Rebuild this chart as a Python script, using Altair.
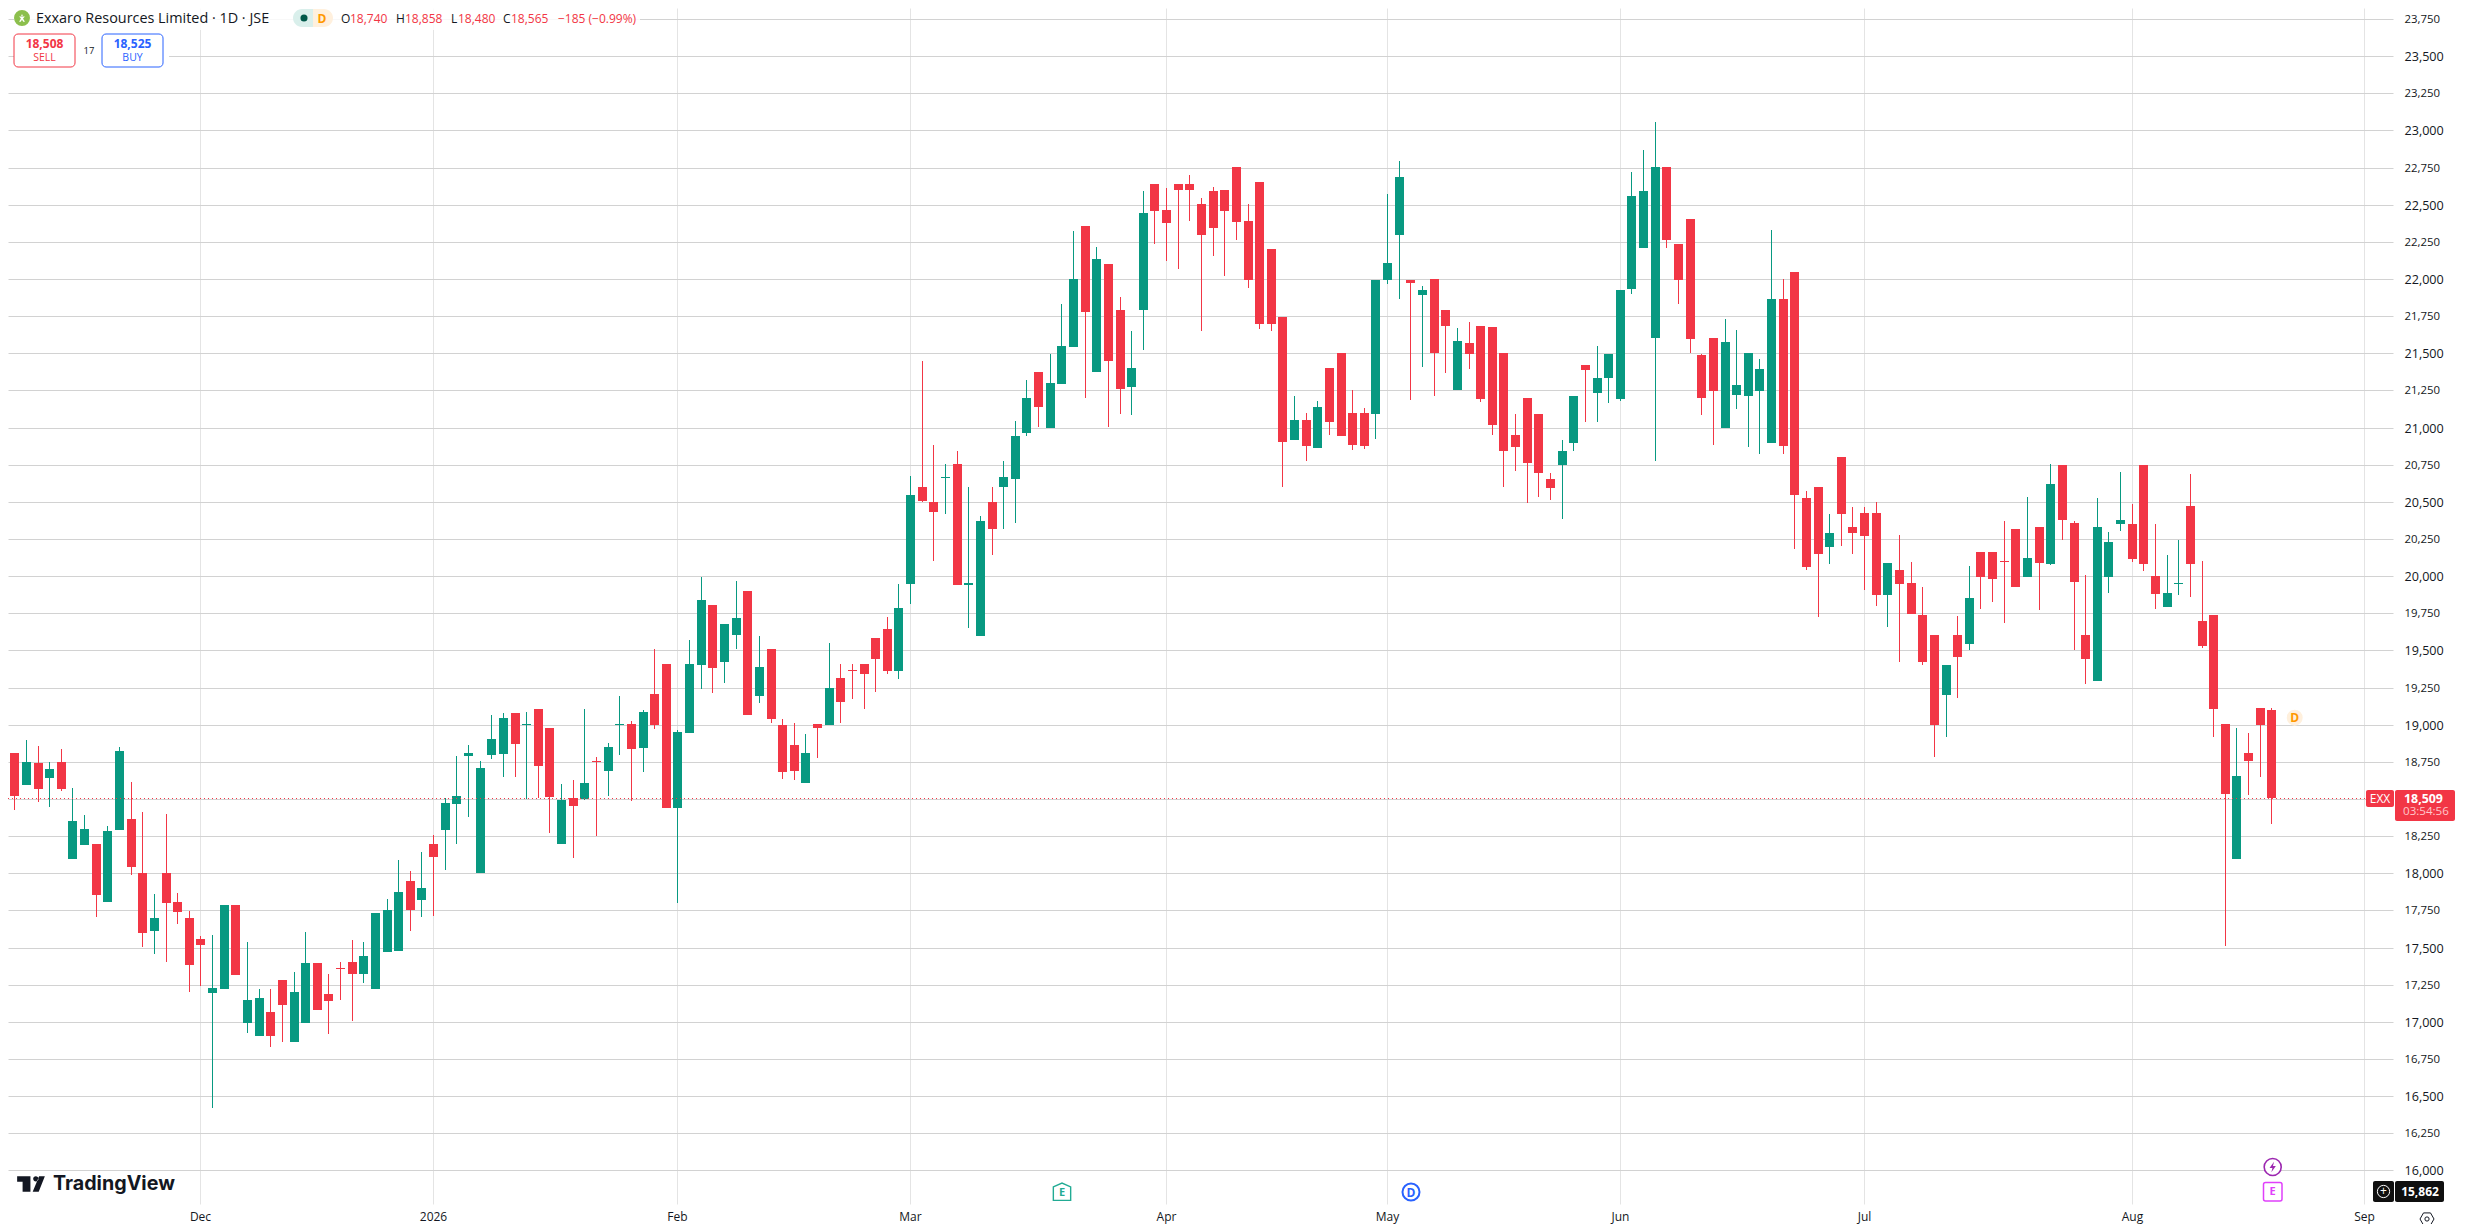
import altair as alt
import pandas as pd

direction = ("RGRGRGGRGG" "RRGRRRRGGR" "GGRRGGRRRR" "GGGGRGRGGG" "GGGRGRRGRG"
             "RGGRGRRGGG" "RGGRGRRRGR" "GRRRRRGGRR" "GRGGRGGGRG" "GGRGRRGGRR"
             "RRRRRRRRRR" "GRGRRRRGGG" "RGRRGRRRRR" "RRRGGRGGGG" "GGRRRRRGGG"
             "GGRRRRGRRR" "RGRRRRGRGR" "RRRGRGRRRG" "GGRRRGGRRR" "RGRRR")

body_top = [
18810,18750,18740,18703,18750,18352,18299,18198,18285,18824,
18366,18000,17699,18000,17807,17699,17558,17228,17787,17787,
17147,17160,17066,17282,17201,17396,17396,17187,17364,17403,
17443,17733,17753,17874,17948,17901,18198,18474,18521,18810,
18709,18905,19043,19076,19004,19103,18975,18490,18504,18605,
18755,18847,19004,19002,19083,19204,19406,18948,19406,19837,
19804,19676,19716,19898,19386,19507,18996,18861,18807,19002,
19245,19312,19368,19406,19581,19642,19784,20549,20597,20502,
20666,20758,19957,20374,20502,20664,20945,21201,21376,21302,
21551,22002,22359,22137,22103,21793,21403,22447,22642,22467,
22642,22642,22507,22595,22602,22757,22393,22656,22204,21746,
21053,21053,21140,21403,21504,21100,21100,21996,22110,22689,
21996,21928,22002,21793,21585,21571,21686,21679,21504,20952,
21201,21093,20655,20844,21214,21423,21335,21497,21928,22561,
22595,22757,22757,22238,22406,21490,21605,21578,21288,21504,
21396,21868,21868,22049,20529,20603,20293,20803,20334,20428,
20428,20091,20038,19957,19741,19605,19404,19605,19855,20163,
20163,20104,20318,20122,20331,20619,20746,20356,19605,20331,
20229,20376,20349,20746,20002,19887,19956,20472,19701,19739,
19002,18653,18807,19115,19102]

body_bottom = [
18521,18595,18565,18642,18568,18097,18191,17854,17807,18292,
18043,17598,17612,17800,17740,17383,17517,17194,17221,17315,
16992,16904,16904,17113,16864,16992,17080,17140,17356,17322,
17322,17221,17470,17477,17753,17820,18110,18292,18467,18790,
18000,18797,18800,18868,18996,18719,18511,18194,18450,18497,
18747,18686,18996,18834,18841,18996,18437,18437,18942,19400,
19379,19420,19602,19063,19191,19036,18679,18686,18605,18975,
18996,19150,19360,19339,19440,19359,19359,19950,20509,20435,
20658,19937,19937,19600,20320,20597,20655,20965,21140,20999,
21295,21544,21780,21376,21450,21261,21275,21793,22460,22379,
22602,22602,22299,22346,22460,22386,21996,21699,21699,20904,
20918,20878,20864,21039,20945,20884,20878,21093,21996,22299,
21975,21894,21504,21686,21255,21497,21194,21019,20844,20871,
20763,20696,20595,20750,20898,21389,21234,21335,21194,21935,
22211,21605,22265,21996,21598,21201,21248,20999,21221,21214,
21248,20898,20878,20549,20064,20152,20199,20421,20293,20267,
19876,19876,19950,19748,19425,18995,19197,19458,19544,19995,
19982,20096,19927,19995,20088,20082,20376,19961,19444,19297,
19995,20349,20116,20082,19880,19794,19948,20082,19533,19109,
18533,18095,18753,18998,18509]

highs = [
18810,18898,18858,18750,18837,18575,18393,18198,18319,18851,
18615,18413,17861,18400,17868,17746,17578,17585,17787,17787,
17538,17221,17221,17282,17335,17605,17396,17322,17403,17551,
17538,17733,17827,18090,18016,18144,18258,18507,18790,18864,
18757,19066,19076,19076,19083,19103,18975,18598,18625,19103,
18780,18874,19191,19022,19097,19507,19406,18962,19568,19992,
19804,19676,19965,19898,19595,19507,19036,19009,18935,19002,
19548,19406,19406,19406,19581,19723,19945,20677,21450,20886,
20758,20839,20597,20408,20603,20772,21046,21322,21376,21497,
21834,22326,22359,22218,22103,21881,21652,22595,22642,22615,
22642,22703,22548,22622,22602,22757,22507,22656,22204,21746,
21214,21100,21181,21403,21504,21255,21133,21996,22575,22797,
21996,21955,22002,21793,21672,21713,21686,21679,21504,21093,
21201,21093,20696,20918,21214,21423,21551,21497,21928,22723,
22871,23060,22757,22238,22406,21497,21605,21733,21659,21504,
21463,22332,22002,22049,20570,20603,20415,20803,20462,20462,
20496,20091,20280,20098,19930,19605,19404,19732,20068,20163,
20163,20370,20318,20531,20331,20753,20746,20370,20009,20524,
20297,20699,20485,20746,20349,20143,20243,20685,20102,19739,
19002,18975,18941,19115,19115]

lows = [
18427,18595,18480,18447,18555,18097,18191,17706,17807,18292,
17989,17504,17457,17403,17659,17201,17241,16420,17221,17315,
16925,16904,16830,16864,16864,16992,17080,16918,17147,17005,
17261,17221,17470,17477,17612,17706,17713,18022,18198,18379,
18000,18770,18645,18645,18497,18504,18268,18194,18106,18490,
18248,18517,18793,18484,18679,18969,18437,17803,18942,19238,
19211,19278,19507,19063,19144,19009,18632,18625,18605,18773,
18996,19009,19171,19103,19218,19339,19305,19815,20496,20105,
20415,19937,19654,19600,20145,20314,20359,20945,21005,20999,
21295,21544,21201,21376,21005,21093,21086,21524,22238,22123,
22070,22393,21652,22157,22022,22265,21942,21665,21652,20601,
20918,20776,20864,20952,20945,20850,20857,20925,21969,21868,
21187,21410,21214,21369,21255,21396,21174,20952,20601,20709,
20494,20534,20514,20386,20844,21039,21039,21167,21181,21901,
22211,20776,22211,21834,21504,21086,20884,20999,21127,20871,
20824,20898,20824,20186,20044,19728,20085,20206,20152,19910,
19802,19660,19425,19748,19404,18780,18920,19177,19506,19780,
19828,19687,19927,19995,19773,20075,20243,19506,19277,19297,
19887,20304,20095,20034,19780,19794,19873,19862,19519,18920,
17512,18095,18526,18646,18331]

tick_prices = list(range(16000, 23751, 250))
month_index = [16, 36, 57, 77, 99, 118, 138, 159, 182, 202]
month_names = ["Dec", "2026", "Feb", "Mar", "Apr", "May", "Jun", "Jul", "Aug", "Sep"]
last_price = 18509

UP = "#089981"
DOWN = "#F23645"
INK = "#131722"
FONT = "Open Sans"

df = pd.DataFrame({
    "i": range(len(highs)),
    "dir": ["up" if d == "G" else "down" for d in direction],
    "top": body_top, "bottom": body_bottom, "high": highs, "low": lows,
})

label_expr = "''"
for idx, name in zip(month_index, month_names):
    label_expr = f"datum.value == {idx} ? '{name}' : ({label_expr})"

xs = alt.Scale(domain=[-0.5415, 204.46], nice=False, zero=False, round=True, padding=0)
ys = alt.Scale(domain=[15774, 23824], nice=False, zero=False, padding=0, round=True)
color = alt.Color("dir:N", scale=alt.Scale(domain=["up", "down"], range=[UP, DOWN]), legend=None)

x_axis = alt.Axis(values=month_index, labelExpr=label_expr, grid=True, gridColor="#e4e4e4", gridWidth=1,
                  domain=False, ticks=False, title=None, labelFontSize=12, labelColor=INK, labelFont=FONT,
                  labelPadding=7, labelFlush=False, labelOverlap=False, labelAngle=0)
y_axis = alt.Axis(orient="right", values=tick_prices, format=",d", grid=True, gridColor="#d2d2d2", gridWidth=1,
                  domain=False, ticks=False, title=None, labelColor=INK, labelFont=FONT, labelPadding=11,
                  labelAlign="left", labelOverlap=False, labelFlush=False,
                  labelFontSize={"condition": {"test": "datum.value % 500 == 0", "value": 12.6}, "value": 11.4})

wicks = alt.Chart(df).mark_rule(strokeWidth=1, xOffset=0.5).encode(
    x=alt.X("i:Q", scale=xs, axis=x_axis),
    y=alt.Y("low:Q", scale=ys, axis=y_axis),
    y2="high:Q", color=color)
bodies = alt.Chart(df).mark_bar(size=9, xOffset=0.5).encode(
    x=alt.X("i:Q", scale=xs, axis=x_axis), y=alt.Y("top:Q", scale=ys, axis=y_axis), y2="bottom:Q", color=color)
price_line = alt.Chart(pd.DataFrame({"p": [last_price]})).mark_rule(
    color=DOWN, strokeDash=[1, 3], strokeWidth=1, yOffset=0.5).encode(
    y=alt.Y("p:Q", scale=ys, axis=y_axis), x=alt.value(0), x2=alt.value(2357.5))

one = alt.Data(values=[{"a": 0}])
ox, oy = 8, 8

def box(x1, y1, x2, y2, fill="white", **kw):
    return alt.Chart(one).mark_rect(fill=fill, **kw).encode(
        x=alt.value(x1 - ox), x2=alt.value(x2 - ox), y=alt.value(y1 - oy), y2=alt.value(y2 - oy))

def label(x, y, s, size=12, col=INK, align="left", weight="normal", font=FONT):
    return alt.Chart(one).mark_text(text=s, fontSize=size, color=col, align=align, baseline="middle",
                                    fontWeight=weight, font=font).encode(
        x=alt.value(x - ox), y=alt.value(y - oy))

def glyph(x, y, shape, size, **kw):
    return alt.Chart(one).mark_point(shape=shape, size=size, **kw).encode(
        x=alt.value(x - ox), y=alt.value(y - oy))

hex_path = "M-1,0 L-0.5,-0.87 L0.5,-0.87 L1,0 L0.5,0.87 L-0.5,0.87 Z"
house_path = "M-1,-0.55 L0,-1 L1,-0.55 L1,1 L-1,1 Z"
bolt_path = "M0.25,-1 L-0.6,0.2 L-0.05,0.2 L-0.25,1 L0.6,-0.2 L0.05,-0.2 Z"
tv_path = ("M-0.99,-0.56 L-0.04,-0.56 L-0.04,0.56 L-0.6,0.56 L-0.6,-0.155 L-0.99,-0.155 Z "
           "M0.155,-0.37 a0.19,0.19 0 1,0 0.38,0 a0.19,0.19 0 1,0 -0.38,0 Z "
           "M0.58,-0.56 L0.99,-0.56 L0.55,0.56 L0.12,0.56 Z")
person_path = ("M-0.2,-0.65 a0.2,0.2 0 1,0 0.4,0 a0.2,0.2 0 1,0 -0.4,0 Z "
               "M-0.7,-0.35 L0.7,-0.35 L0.25,0.1 L0.7,0.9 L0.3,0.9 L0,0.4 L-0.3,0.9 L-0.7,0.9 L-0.25,0.1 Z")

overlays = [
    # header backdrop
    box(14, 8, 640, 30, fill="white", opacity=0.85),
    box(14, 30, 169, 70),
    glyph(22, 18, "circle", 254, filled=True, color="#8cbf4d", opacity=1),
    glyph(22, 18, person_path, 70, filled=True, color="white", opacity=1),
    label(36, 18.5, "Exxaro Resources Limited · 1D · JSE", 14.4),
    box(293, 9, 313, 27, fill="#d9efeb", cornerRadiusTopLeft=9, cornerRadiusBottomLeft=9),
    box(313, 9, 333, 27, fill="#fff0dd", cornerRadiusTopRight=9, cornerRadiusBottomRight=9),
    glyph(304, 18, "circle", 50, filled=True, color="#00594a", opacity=1),
    label(322, 18.5, "D", 12, "#ff9800", "center", "bold"),
    label(341, 18.5, "O", 12), label(350, 18.5, "18,740", 12, DOWN),
    label(396, 18.5, "H", 12), label(405, 18.5, "18,858", 12, DOWN),
    label(451, 18.5, "L", 12), label(458, 18.5, "18,480", 12, DOWN),
    label(503, 18.5, "C", 12), label(511, 18.5, "18,565", 12, DOWN),
    label(558, 18.5, "−185 (−0.99%)", 12, DOWN),
    # sell / buy
    box(14, 34, 75, 67, stroke=DOWN, strokeWidth=1, cornerRadius=4),
    label(44.5, 44, "18,508", 12, DOWN, "center", "bold"),
    label(44.5, 58, "SELL", 10.5, DOWN, "center"),
    label(89, 51, "17", 9.5, INK, "center"),
    box(102, 34, 163, 67, stroke="#2962FF", strokeWidth=1, cornerRadius=4),
    label(132.5, 44, "18,525", 12, "#2962FF", "center", "bold"),
    label(132.5, 58, "BUY", 10.5, "#2962FF", "center"),
    # earnings / dividend marks
    glyph(2294.7, 717.7, "circle", 254, filled=True, color="#fff0dd", opacity=1),
    label(2294.7, 718, "D", 12, "#ff9800", "center", "bold"),
    glyph(1062, 1191.7, house_path, 300, filled=True, fill="white", stroke="#22ab94", strokeWidth=1.4, opacity=1),
    label(1062, 1193, "E", 11, "#22ab94", "center", "bold"),
    glyph(1411, 1192, "circle", 290, filled=True, fill="white", stroke="#2962FF", strokeWidth=2, opacity=1),
    label(1411, 1192.5, "D", 12, "#2962FF", "center", "bold"),
    glyph(2272.7, 1167, "circle", 290, filled=True, fill="white", stroke="#9c27b0", strokeWidth=1.6, opacity=1),
    glyph(2272.7, 1167, bolt_path, 110, filled=True, color="#9c27b0", opacity=1),
    box(2263.5, 1182.5, 2282, 1201, stroke="#e040fb", strokeWidth=1.5, cornerRadius=2),
    label(2272.7, 1192, "E", 11, "#e040fb", "center", "bold"),
    # last price tags
    box(2366, 790, 2394, 807, fill=DOWN, cornerRadius=2),
    label(2380, 799, "EXX", 12, "white", "center"),
    box(2395, 790, 2455, 821, fill=DOWN, cornerRadius=2),
    label(2404, 798.5, "18,509", 12.4, "white", "left", "bold"),
    label(2403, 812, "03:54:56", 11.6, "#ffc7cb"),
    # lowest visible price tag
    box(2373, 1181, 2394, 1202, fill="#0f0f0f", cornerRadius=2),
    glyph(2383.5, 1191.5, "circle", 150, filled=False, color="white", strokeWidth=1, opacity=1),
    label(2383.5, 1191, "+", 12, "white", "center"),
    box(2395, 1181, 2444, 1202, fill="#0f0f0f", cornerRadius=2),
    label(2420, 1191.5, "15,862", 12, "white", "center", "bold"),
    # settings icon
    glyph(2427, 1219, hex_path, 196, filled=False, color=INK, strokeWidth=1, opacity=1),
    glyph(2427, 1219, "circle", 18, filled=False, color=INK, strokeWidth=1, opacity=1),
    # logo
    glyph(31, 1184, tv_path, 784, filled=True, color=INK, strokeWidth=0, opacity=1),
    label(53, 1184, "TradingView", 19.7, "#131722", "left", 700, "Inter"),
]

chart = alt.layer(wicks, bodies, price_line, *overlays).properties(
    width=2385, height=1196, background="white",
    padding={"left": 0, "top": 0, "right": 68, "bottom": 20},
    autosize=alt.AutoSizeParams(type="none"),
).configure_view(stroke=None).resolve_scale(x="shared", y="shared")

chart.save("out.html", embed_options={"renderer": "svg", "actions": False})
